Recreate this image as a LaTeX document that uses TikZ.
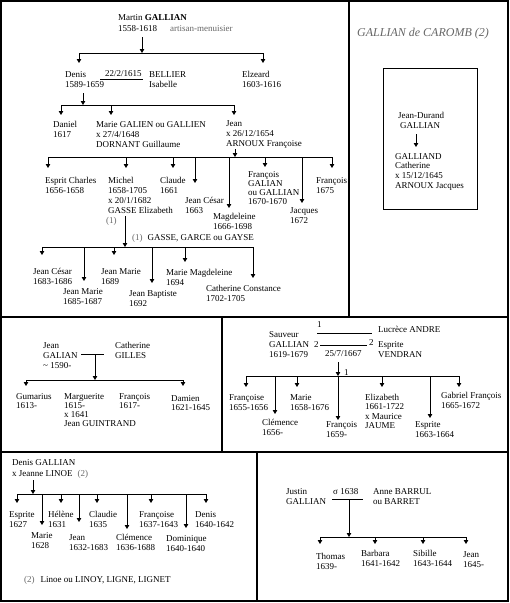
\documentclass[tikz,border=0pt]{standalone}
\usepackage{fontspec}
\setmainfont{Liberation Serif}
\usepackage{xcolor}
\usepackage{tikz}
\usetikzlibrary{arrows.meta}
\definecolor{notegray}{gray}{0.4}
\newcommand{\who}[1]{\begin{tabular}[t]{@{}l@{}}#1\end{tabular}}
\tikzset{
  person/.style={anchor=base west, inner sep=0pt, font=\fontsize{9}{10}\selectfont},
  tight/.style={font=\fontsize{9}{9.3}\selectfont},
  note/.style={text=notegray},
  link/.style={line width=0.8pt},
  drop/.style={link, -{Triangle[length=4pt,width=4.5pt]}},
  frame/.style={line width=1.3pt}
}

\begin{document}
\begin{tikzpicture}[x=1pt,y=-1pt]
  \useasboundingbox (0,0) rectangle (510,603);

  % Frames of the panels
  \draw[frame] (1,1) rectangle (508,601);
  \draw[frame] (349,1) -- (349,317);
  \draw[frame] (1,317) -- (508,317);
  \draw[frame] (222,317) -- (222,452);
  \draw[frame] (1,452) -- (508,452);
  \draw[frame] (257,452) -- (257,601);

  % Martin and his sons
  \node[person, font=\fontsize{9}{11}\selectfont] (martin) at (118,20) {\who{Martin \textbf{GALLIAN}\\1558-1618}};
  \node[person, note] (metier) at (170,31) {artisan-menuisier};
  \draw[drop] (142,37) -- (142,53);
  \draw[link] (79,53) -- (263,53);
  \draw[drop] (79,53) -- (79,63);
  \draw[drop] (263,53) -- (263,63);
  \node[person] (denis) at (65,77) {\who{Denis\\1589-1659}};
  \node[person] (mar1) at (105,76) {22/2/1615};
  \draw[link] (100,79) -- (143,79);
  \node[person] (bellier) at (149,77) {\who{BELLIER\\Isabelle}};
  \node[person] (elzeard) at (242,77) {\who{Elzeard\\1603-1616}};

  % Children of Denis
  \draw[drop] (83,93) -- (83,105);
  \draw[link] (61,105) -- (234,105);
  \draw[drop] (61,105) -- (61,115);
  \draw[drop] (111,105) -- (111,115);
  \draw[drop] (234,105) -- (234,115);
  \node[person] (daniel) at (53,127) {\who{Daniel\\1617}};
  \node[person] (marie) at (96,127) {\who{Marie GALIEN ou GALLIEN\\x 27/4/1648\\DORNANT Guillaume}};
  \node[person] (jean) at (226,126) {\who{Jean\\x 26/12/1654\\ARNOUX Françoise}};

  % Children of Jean
  \draw[drop] (235,149) -- (235,157);
  \draw[link] (48,157) -- (332,157);
  \draw[drop] (48,157) -- (48,168);
  \draw[drop] (126,157) -- (126,168);
  \draw[drop] (173,157) -- (173,168);
  \draw[drop] (195,157) -- (195,183);
  \draw[drop] (229,157) -- (229,208);
  \draw[drop] (265,157) -- (265,167);
  \draw[drop] (302,157) -- (302,203);
  \draw[drop] (332,157) -- (332,168);
  \node[person] (esprit) at (45,183) {\who{Esprit Charles\\1656-1658}};
  \node[person] (michel) at (108,183) {\who{Michel\\1658-1705\\x 20/1/1682\\GASSE Elizabeth}};
  \node[person] (claude) at (160,183) {\who{Claude\\1661}};
  \node[person] (jcesar) at (185,203) {\who{Jean César\\1663}};
  \node[person] (magd) at (213,219) {\who{Magdeleine\\1666-1698}};
  \node[person, tight] (franG) at (248,177) {\who{François\\GALIAN\\ou GALLIAN\\1670-1670}};
  \node[person] (jacques) at (290,213) {\who{Jacques\\1672}};
  \node[person] (fran75) at (316,183) {\who{François\\1675}};

  % Children of Michel
  \node[person, note] (ref1) at (106,223) {(1)};
  \node[person] (gasse) at (132,240) {\textcolor{notegray}{(1)}\hspace{5pt}GASSE, GARCE ou GAYSE};
  \draw[drop] (125,216) -- (125,247);
  \draw[link] (42,247) -- (253,247);
  \draw[drop] (42,247) -- (42,255);
  \draw[drop] (84,247) -- (84,281);
  \draw[drop] (114,247) -- (114,255);
  \draw[drop] (152,247) -- (152,283);
  \draw[drop] (185,247) -- (185,262);
  \draw[drop] (253,247) -- (253,278);
  \node[person] (jc83) at (33,274) {\who{Jean César\\1683-1686}};
  \node[person] (jm85) at (63,294) {\who{Jean Marie\\1685-1687}};
  \node[person] (jm89) at (101,274) {\who{Jean Marie\\1689}};
  \node[person] (jb92) at (129,296) {\who{Jean Baptiste\\1692}};
  \node[person] (mm94) at (166,275) {\who{Marie Magdeleine\\1694}};
  \node[person] (cc02) at (206,291) {\who{Catherine Constance\\1702-1705}};

  % GALLIAN de CAROMB
  \node[person, note, font=\fontsize{12}{14}\selectfont\itshape] (title) at (357,36) {GALLIAN de CAROMB (2)};
  \draw[link] (383,68) rectangle (477,209);
  \node[person] (jdurand) at (398,118) {\who{Jean-Durand\\\hspace{2pt}GALLIAN}};
  \draw[drop] (416,134) -- (416,147);
  \node[person, font=\fontsize{9}{9.7}\selectfont] (cathG) at (395,159) {\who{GALLIAND\\Catherine\\x 15/12/1645\\ARNOUX Jacques}};

  % Jean GALIAN and Catherine GILLES
  \node[person] (jeanG) at (43,348) {\who{Jean\\GALIAN\\\textasciitilde{} 1590-}};
  \node[person] (gilles) at (115,348) {\who{Catherine\\GILLES}};
  \draw[link] (81,354) -- (104,354);
  \draw[drop] (95,354) -- (95,380);
  \draw[link] (26,380) -- (183,380);
  \draw[drop] (26,380) -- (26,386);
  \draw[drop] (183,380) -- (183,386);
  \node[person, tight] (gumar) at (16,399) {\who{Gumarius\\1613-}};
  \node[person, tight] (margu) at (64,399) {\who{Marguerite\\1615-\\x 1641\\Jean GUINTRAND}};
  \node[person, tight] (franJ) at (119,399) {\who{François\\1617-}};
  \node[person, tight] (damien) at (171,401) {\who{Damien\\1621-1645}};

  % Sauveur GALLIAN and his two wives
  \node[person] (sauveur) at (269,337) {\who{Sauveur\\GALLIAN\\1619-1679}};
  \node[person] (w1) at (317,327) {1};
  \draw[link] (317,333) -- (372,333);
  \node[person] (w2a) at (314,347) {2};
  \draw[link] (320,345) -- (367,345);
  \node[person] (w2b) at (369,345) {2};
  \node[person] (mar2) at (325,356) {25/7/1667};
  \node[person] (lucrece) at (378,332) {Lucrèce ANDRE};
  \node[person] (vendran) at (378,347) {\who{Esprite\\VENDRAN}};
  \draw[drop] (338,362) -- (338,376);
  \node[person] (w1b) at (344,375) {1};
  \draw[link] (246,376) -- (459,376);
  \draw[drop] (246,376) -- (246,387);
  \draw[drop] (275,376) -- (275,414);
  \draw[drop] (297,376) -- (297,387);
  \draw[drop] (338,376) -- (338,420);
  \draw[drop] (382,376) -- (382,387);
  \draw[drop] (430,376) -- (430,418);
  \draw[drop] (459,376) -- (459,387);
  \node[person] (franS) at (229,400) {\who{Françoise\\1655-1656}};
  \node[person] (clemS) at (262,425) {\who{Clémence\\1656-}};
  \node[person] (marieS) at (290,400) {\who{Marie\\1658-1676}};
  \node[person] (francS) at (326,427) {\who{François\\1659-}};
  \node[person, font=\fontsize{9}{9.5}\selectfont] (eliz) at (365,400) {\who{Elizabeth\\1661-1722\\x Maurice\\JAUME}};
  \node[person] (espS) at (415,427) {\who{Esprite\\1663-1664}};
  \node[person] (gabr) at (441,398) {\who{Gabriel François\\1665-1672}};

  % Denis GALLIAN and Jeanne LINOE
  \node[person, font=\fontsize{9}{11}\selectfont] (denisG) at (12,465) {\who{Denis GALLIAN\\x Jeanne LINOE\hspace{5pt}\textcolor{notegray}{(2)}}};
  \draw[drop] (33,480) -- (33,494);
  \draw[link] (17,494) -- (206,494);
  \draw[drop] (17,494) -- (17,503);
  \draw[drop] (42,494) -- (42,525);
  \draw[drop] (61,494) -- (61,503);
  \draw[drop] (79,494) -- (79,522);
  \draw[drop] (97,494) -- (97,503);
  \draw[drop] (127,494) -- (127,529);
  \draw[drop] (151,494) -- (151,503);
  \draw[drop] (186,494) -- (186,528);
  \draw[drop] (206,494) -- (206,503);
  \node[person] (espD) at (9,517) {\who{Esprite\\1627}};
  \node[person] (marieD) at (31,538) {\who{Marie\\1628}};
  \node[person] (helene) at (48,517) {\who{Hélène\\1631}};
  \node[person] (jeanD) at (69,540) {\who{Jean\\1632-1683}};
  \node[person] (claudie) at (89,517) {\who{Claudie\\1635}};
  \node[person] (clemD) at (116,540) {\who{Clémence\\1636-1688}};
  \node[person] (franD) at (139,517) {\who{Françoise\\1637-1643}};
  \node[person] (domin) at (166,541) {\who{Dominique\\1640-1640}};
  \node[person] (denisD) at (195,517) {\who{Denis\\1640-1642}};
  \node[person] (ref2) at (24,582) {\textcolor{notegray}{(2)}\hspace{6pt}Linoe ou LINOY, LIGNE, LIGNET};

  % Justin GALLIAN and Anne BARRUL
  \node[person] (justin) at (286,494) {\who{Justin\\GALLIAN}};
  \node[person] (mar3) at (333,494) {σ 1638};
  \draw[link] (332,499) -- (363,499);
  \node[person] (anne) at (373,494) {\who{Anne BARRUL\\ou BARRET}};
  \draw[drop] (349,499) -- (349,537);
  \draw[link] (320,537) -- (466,537);
  \draw[drop] (320,537) -- (320,544);
  \draw[drop] (375,537) -- (375,544);
  \draw[drop] (423,537) -- (423,544);
  \draw[drop] (466,537) -- (466,544);
  \node[person] (thomas) at (316,559) {\who{Thomas\\1639-}};
  \node[person] (barbara) at (361,556) {\who{Barbara\\1641-1642}};
  \node[person] (sibille) at (413,556) {\who{Sibille\\1643-1644}};
  \node[person] (jeanJ) at (463,557) {\who{Jean\\1645-}};

\end{tikzpicture}
\end{document}
